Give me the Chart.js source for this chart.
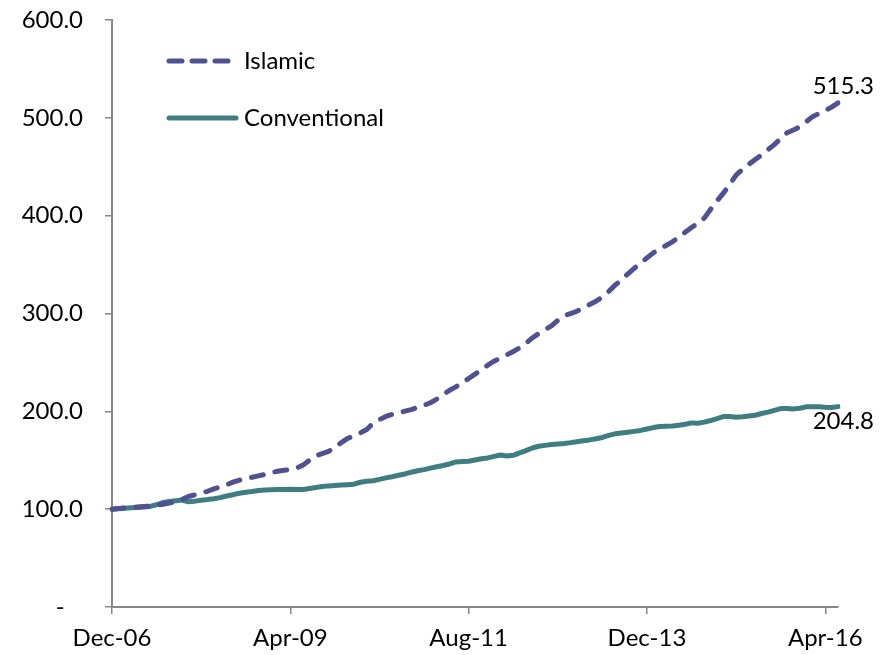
<!DOCTYPE html>
<html>
<head>
<meta charset="utf-8">
<script src="https://cdn.jsdelivr.net/npm/chart.js@4.4.1/dist/chart.umd.min.js"></script>
<style>
    html, body { margin: 0; padding: 0; background: #fff; }
    #wrap { width: 883px; height: 655px; }
</style>
</head>
<body>
<div id="wrap"><canvas id="myChart"></canvas></div>
<script>
// monthly index, Dec-06 = 100
const monthNames = ['Jan', 'Feb', 'Mar', 'Apr', 'May', 'Jun', 'Jul', 'Aug', 'Sep', 'Oct', 'Nov', 'Dec'];
const startYear = 2006;
const startMonth = 11; // Dec
const monthCount = 115; // Dec-06 .. Jun-16
const tickEvery = 28;

const islamic = [
    100, 100.6, 101.2, 101.8, 102.3, 102.8, 103.3, 104, 105, 106.3,
    107.8, 110, 113, 114.6, 116.2, 118.3, 120.8, 122.6, 125, 127.6,
    129.7, 131.2, 132.6, 134, 135.5, 137.3, 138.8, 139.8, 140.5, 142,
    145, 150, 154.5, 156.8, 159, 163, 168, 172.3, 175.3, 178,
    181.5, 187.8, 191.5, 194.8, 197, 198.6, 200.2, 201.8, 204, 206.2,
    208.8, 212.5, 217.2, 221.5, 225, 229.2, 233.6, 238, 242.5, 247.2,
    251.2, 254.5, 257.8, 261.2, 264.8, 269.5, 275, 279.5, 283.5, 287.3,
    293, 297.8, 299.8, 302.3, 305.8, 309.2, 312.5, 317, 322.5, 329,
    334.5, 340.5, 346.2, 351.5, 356.8, 362, 366, 369.5, 373.3, 378,
    383, 387.8, 392.5, 397.5, 406.5, 415, 423, 432, 441.5, 447.3,
    452.5, 457.3, 462.2, 467.4, 472.6, 479, 484.8, 487.6, 490.8, 496,
    501.2, 504.4, 507.4, 511, 515.3
];

const conventional = [
    100, 100.5, 101, 101.5, 101.8, 102.2, 102.8, 104.5, 106.8, 107.8,
    108.6, 109.3, 107.5, 108.2, 109.2, 109.8, 110.6, 111.8, 113.5, 114.8,
    116.3, 117.3, 118, 119, 119.6, 119.8, 120, 120.2, 120.4, 120,
    120.2, 121.2, 122.2, 123.2, 123.8, 124.2, 124.6, 125, 125.5, 127.5,
    128.6, 129.1, 130.5, 132, 133.2, 134.6, 136, 137.8, 139.2, 140.4,
    142, 143.4, 144.6, 146.2, 148.3, 148.6, 149, 150.3, 151.5, 152.4,
    154, 155.4, 154.4, 155, 157.5, 159.8, 162.5, 164.3, 165.2, 166,
    166.7, 167.2, 168, 169, 170, 170.8, 172, 173.3, 175.4, 177,
    177.8, 178.6, 179.5, 180.5, 182, 183.4, 184.4, 184.7, 185, 185.8,
    186.8, 188.2, 187.8, 189, 190.6, 192.5, 194.6, 194.8, 193.9, 194.5,
    195.3, 196, 197.8, 199.2, 201, 202.8, 203, 202.5, 203.2, 204.6,
    204.8, 204.7, 204.2, 204, 204.8
];

const yTicks = [0, 100, 200, 300, 400, 500, 600];

const labels = [];
for (let i = 0; i < monthCount; i++) {
    const m = (startMonth + i) % 12;
    const y = startYear + Math.floor((startMonth + i) / 12);
    labels.push(monthNames[m] + '-' + String(y).slice(2));
}

const FONT = 'Lato, "Open Sans", sans-serif';
const FONT_SIZE = 24;
const islamicColor = '#4F5190';
const conventionalColor = '#3E7E82';
const axisColor = '#878787';

// legend drawn inside the plot, top left
const insideLegend = {
    id: 'insideLegend',
    afterDraw(chart) {
        const ctx = chart.ctx;
        const items = [
            { text: 'Islamic', color: islamicColor, dash: [13, 10], y: 61 },
            { text: 'Conventional', color: conventionalColor, dash: [], y: 118 }
        ];
        ctx.save();
        items.forEach(function (it) {
            ctx.beginPath();
            ctx.strokeStyle = it.color;
            ctx.lineWidth = 5;
            ctx.lineCap = 'round';
            ctx.setLineDash(it.dash);
            ctx.moveTo(169, it.y);
            ctx.lineTo(236, it.y);
            ctx.stroke();
            ctx.setLineDash([]);
            ctx.fillStyle = '#000';
            ctx.font = FONT_SIZE + 'px ' + FONT;
            ctx.textAlign = 'left';
            ctx.textBaseline = 'middle';
            ctx.fillText(it.text, 244, it.y);
        });
        ctx.restore();
    }
};

// value labels at the last point of each line
const endLabels = {
    id: 'endLabels',
    afterDatasetsDraw(chart) {
        const ctx = chart.ctx;
        const offsets = [-17, 15];
        ctx.save();
        ctx.font = FONT_SIZE + 'px ' + FONT;
        ctx.fillStyle = '#000';
        ctx.textAlign = 'right';
        ctx.textBaseline = 'middle';
        chart.data.datasets.forEach(function (ds, i) {
            const meta = chart.getDatasetMeta(i);
            const pt = meta.data[meta.data.length - 1];
            const val = ds.data[ds.data.length - 1];
            ctx.fillText(val.toFixed(1), pt.x + 36, pt.y + offsets[i]);
        });
        ctx.restore();
    }
};

const myChart = document.getElementById('myChart');
let newChart = new Chart(myChart, {
    type: 'line',
    data: {
        labels: labels,
        datasets: [{
            label: 'Islamic',
            data: islamic,
            borderColor: islamicColor,
            borderWidth: 5,
            borderDash: [12, 12],
            borderCapStyle: 'round',
            borderJoinStyle: 'round',
            pointRadius: 0,
            tension: 0,
            fill: false
        }, {
            label: 'Conventional',
            data: conventional,
            borderColor: conventionalColor,
            borderWidth: 5,
            borderCapStyle: 'round',
            borderJoinStyle: 'round',
            pointRadius: 0,
            tension: 0,
            fill: false
        }]
    },
    options: {
        responsive: true,
        maintainAspectRatio: false,
        animation: false,
        layout: { padding: { top: 20, right: 45, left: 0, bottom: 0 } },
        plugins: {
            legend: { display: false },
            tooltip: { enabled: false }
        },
        scales: {
            x: {
                type: 'category',
                offset: false,
                afterFit(scale) {
                    scale.height = 48;
                    scale.paddingLeft = 0;
                    scale.paddingRight = 0;
                },
                grid: {
                    display: true,
                    drawOnChartArea: false,
                    drawTicks: true,
                    tickLength: 7,
                    color: axisColor,
                    lineWidth: 1.5
                },
                border: { display: true, color: axisColor, width: 2 },
                ticks: {
                    autoSkip: false,
                    maxRotation: 0,
                    padding: 10,
                    color: '#000',
                    font: { family: FONT, size: FONT_SIZE },
                    callback: function (value, index) {
                        return index % tickEvery === 0 ? labels[index] : null;
                    }
                }
            },
            y: {
                min: 0,
                max: 600,
                afterFit(scale) {
                    scale.width = 112;
                    scale.paddingTop = 0;
                    scale.paddingBottom = 0;
                },
                afterBuildTicks(scale) {
                    scale.ticks = yTicks.map(function (v) { return { value: v }; });
                },
                grid: {
                    display: true,
                    drawOnChartArea: false,
                    drawTicks: true,
                    tickLength: 7,
                    color: axisColor,
                    lineWidth: 1.5
                },
                border: { display: true, color: axisColor, width: 2 },
                ticks: {
                    padding: 22,
                    color: '#000',
                    font: { family: FONT, size: FONT_SIZE },
                    callback: function (value) {
                        return value === 0 ? '-   ' : value.toFixed(1);
                    }
                }
            }
        }
    },
    plugins: [insideLegend, endLabels]
});
</script>
</body>
</html>
